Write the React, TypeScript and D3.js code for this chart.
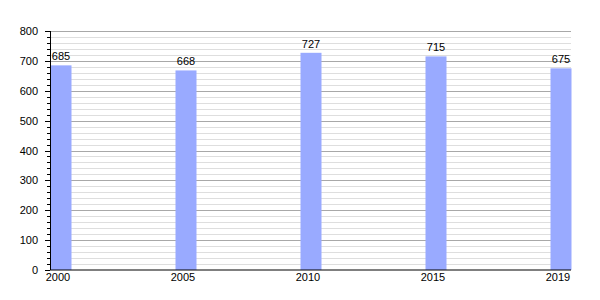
import React from "react";
import * as d3 from "d3";

const years = ["2000", "2005", "2010", "2015", "2019"];
const values = [685, 668, 727, 715, 675];
const yMajorTicks = [0, 100, 200, 300, 400, 500, 600, 700, 800];

export default function App() {
  const W = 600, H = 300;
  const x0 = 50, xEnd = 571;
  const barW = 21;
  const x = d3.scalePoint<string>().domain(years).range([50.5, 550.5]);
  const y = d3.scaleLinear().domain([0, 800]).range([270, 31]);
  const minor = d3.range(0, 801, 20);
  const font = "'Liberation Sans', Arial, sans-serif";
  return (
    <svg width={W} height={H} style={{ position: "absolute", left: 0, top: 0, background: "#fff" }}>
      {minor.map((v) => {
        const major = v % 100 === 0;
        if (v === 0) return null;
        return (
          <line key={"g" + v} x1={x0} x2={xEnd} y1={Math.round(y(v)) + 0.5} y2={Math.round(y(v)) + 0.5}
            stroke={major ? "#a8a8a8" : "#dedede"} strokeWidth={1} />
        );
      })}
      {values.map((v, i) => (
        <rect key={"b" + i} x={x(years[i])!} y={y(v)} width={barW} height={y(0) - y(v)} fill="#99aaff" />
      ))}
      {values.map((v, i) => (
        <text key={"l" + i} x={x(years[i])! + barW / 2} y={y(v) - 5} textAnchor="middle"
          fontFamily={font} fontSize={11} fill="#000">{v}</text>
      ))}
      <line x1={x0 + 0.5} x2={x0 + 0.5} y1={y(800)} y2={270} stroke="#000" strokeWidth={1} />
      <line x1={x0} x2={xEnd} y1={270} y2={270} stroke="#000" strokeWidth={1} />
      {minor.map((v) => {
        const major = v % 100 === 0;
        const yy = Math.round(y(v)) + 0.5;
        return <line key={"t" + v} x1={major ? x0 - 5 : x0 - 3} x2={x0} y1={yy} y2={yy} stroke="#000" strokeWidth={1} />;
      })}
      {yMajorTicks.map((v) => (
        <text key={"yl" + v} x={38} y={y(v) + 4} textAnchor="end" fontFamily={font} fontSize={11} fill="#000">{v}</text>
      ))}
      {years.map((yr) => (
        <text key={"xl" + yr} x={x(yr)! + barW / 2 - 3} y={281} textAnchor="middle" fontFamily={font} fontSize={11} fill="#000">{yr}</text>
      ))}
    </svg>
  );
}
